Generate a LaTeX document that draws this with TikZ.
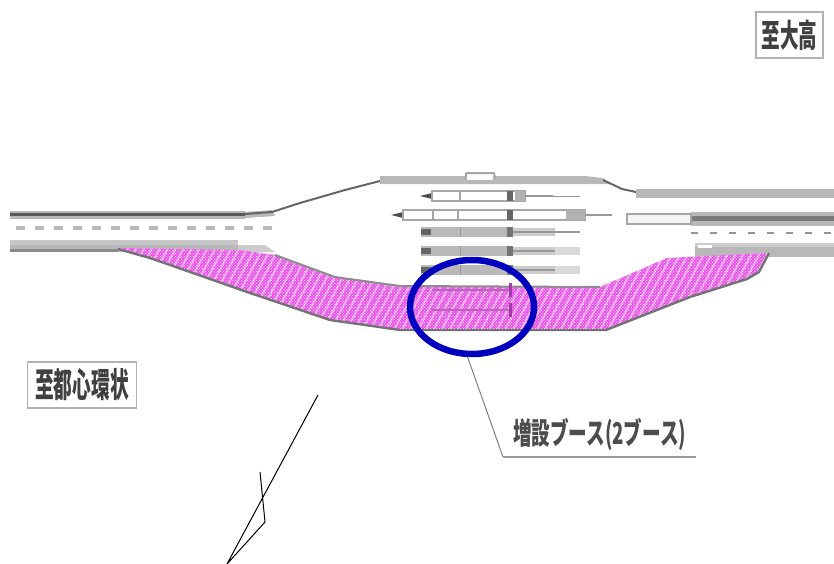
\documentclass[tikz,border=0pt]{standalone}
\usepackage{fontspec}
\newfontfamily\cjk{Noto Sans CJK JP}
\usetikzlibrary{shapes.geometric,patterns,patterns.meta}
\definecolor{roadgrey}{gray}{0.72}
\definecolor{roaddark}{gray}{0.35}
\definecolor{addpink}{RGB}{236,80,236}
\definecolor{circblue}{RGB}{0,0,190}
\begin{document}
\begin{tikzpicture}[x=1pt,y=-1pt,
    lb/.style={draw=gray!60,line width=1.4pt,fill=white,inner sep=0pt,minimum height=46pt,text=black!75},
    edge/.style={draw=black!60,line width=2pt,line join=round},
    band/.style={fill=roadgrey,draw=none},
    booth/.style={draw=gray!70,line width=1.4pt,fill=#1},
    tail/.style={draw=gray!80,line width=#1}]
    \useasboundingbox (0,0) rectangle (834,564);
    % left road
    \fill[band] (10,211) rectangle (245,219);
    \draw[roaddark,line width=3pt] (10,214.5) -- (245,214.5);
    \fill[band] (245,212) -- (272,210) -- (275,216) -- (245,218) -- cycle;
    \fill[band] (10,240) rectangle (238,252);
    \fill[gray!45] (10,240) rectangle (238,245);
    \fill[gray!40] (238,245) -- (265,245) -- (275,252) -- (238,252) -- cycle;
    \fill[roaddark!70] (10,249) rectangle (118,252);
    \draw[gray!55,line width=4pt,dash pattern=on 9pt off 10pt] (16,228) -- (275,228);
    \draw[edge] (245,214) -- (272,212) -- (300,203) -- (345,190) -- (380,181);
    % top of the plaza
    \fill[band] (380,176) -- (585,176) -- (603,178) -- (610,184) -- (380,184) -- cycle;
    \draw[edge,draw=gray!70] (466,178) -- (466,173) -- (494,173) -- (495,178);
    \fill[white] (467,175) rectangle (493,180);
    \draw[edge] (603,180) -- (622,189) -- (636,192);
    % right road
    \fill[band] (636,189) rectangle (834,198);
    \fill[band] (691,212) rectangle (834,226);
    \fill[roaddark!80] (691,216) rectangle (834,221);
    \draw[booth=gray!8] (627,224) -- (691,224) -- (691,214) -- (627,214) -- cycle;
    \draw[roadgrey!80!black,line width=1.8pt,dash pattern=on 7pt off 12pt] (691,233) -- (834,233);
    \fill[band] (695,243) rectangle (834,257);
    \fill[gray!40] (695,243) rectangle (834,247);
    \fill[white] (698,245) rectangle (712,248);
    % added area
    \path[fill=addpink] (118,248) -- (240,250) -- (275,255) -- (335,277) -- (400,286) -- (600,287)
        -- (667,258) -- (768,253) -- (759,272) -- (747,279) -- (690,297) -- (606,330) -- (400,330)
        -- (330,320) -- (250,293) -- (150,258) -- cycle;
    \path[pattern={Lines[angle=62,distance=7pt,line width=2pt]},pattern color=white,opacity=0.45] (118,248) -- (240,250) -- (275,255) -- (335,277) -- (400,286) -- (600,287)
        -- (667,258) -- (768,253) -- (759,272) -- (747,279) -- (690,297) -- (606,330) -- (400,330)
        -- (330,320) -- (250,293) -- (150,258) -- cycle;
    \path[pattern=crosshatch dots,pattern color=white] (118,248) -- (240,250) -- (275,255) -- (335,277) -- (400,286) -- (600,287)
        -- (667,258) -- (768,253) -- (759,272) -- (747,279) -- (690,297) -- (606,330) -- (400,330)
        -- (330,320) -- (250,293) -- (150,258) -- cycle;
    \draw[edge,draw=black!55,line width=2.4pt] (118,249) -- (150,258) -- (250,293) -- (330,320) -- (400,330) -- (606,330)
        -- (690,297) -- (747,279) -- (759,272) -- (769,253);
    \draw[edge,draw=black!45] (275,255) -- (335,277) -- (400,286) -- (600,287);
    % booths
    \foreach \y/\x/\a/\b/\c in {196/420/525/553/580,215/391/585/612/612} {
        \fill[black!70] (\x,\y) -- (\x+12,\y-3) -- (\x+12,\y+3) -- cycle;
        \draw[booth=white] (\x+12,\y-5) rectangle (\a,\y+5);
        \draw[tail=2pt] (\a,\y) -- (\b,\y);
        \draw[tail=1pt] (\b,\y) -- (\c,\y);
        \fill[black!60] (507,\y-5) rectangle (513,\y+5);
    }
    \fill[gray!60] (515,191) rectangle (525,201);
    \fill[gray!60] (566,210) rectangle (585,220);
    \draw[gray!70,line width=1.4pt] (460,191) -- (460,201);
    \draw[gray!70,line width=1.4pt] (433,210) -- (433,220) (458,210) -- (458,220);
    \foreach \y/\c in {232/580,251/580,270/580} {
        \fill[gray!55] (421,\y-5) rectangle (510,\y+5);
        \fill[black!60] (421,\y-3) rectangle (431,\y+3);
        \fill[gray!40] (510,\y-4) rectangle (555,\y+4);
        \draw[tail=1.4pt] (510,\y) -- (\c,\y);
        \fill[black!55] (507,\y-5) rectangle (513,\y+5);
        \draw[gray!80,line width=1pt] (460,\y-5) -- (460,\y+5);
    }
    \fill[gray!30] (555,247) rectangle (580,255);
    \fill[gray!30] (555,266) rectangle (580,274);
    \foreach \y in {290,310} {
        \draw[gray!50!addpink,line width=1.4pt] (432,\y) -- (510,\y);
        \fill[black!30!addpink] (509,\y-7) rectangle (512,\y+7);
    }
    % circle and label
    \node[ellipse,draw=circblue,line width=6.5pt,minimum width=124pt,minimum height=94pt,inner sep=0pt] (newbooth) at (472,307) {};
    \coordinate (bend) at (503,457);
    \coordinate (lineend) at (696,457);
    \draw[gray,line width=1pt] (newbooth.265) -- (bend);
    \draw[gray!80,line width=2pt] (bend) -- (lineend);
    \node[text=black!70,font=\cjk\bfseries\fontsize{30}{30}\selectfont,xscale=0.62,anchor=west,inner sep=0pt] (addlabel) at (513,434) {増設ブース(2ブース)};
    \node[lb,minimum width=67pt,font=\cjk\bfseries\fontsize{32}{32}\selectfont] (daikou) at (789.5,35) {\scalebox{0.58}[1]{至大高}};
    \node[lb,minimum width=109pt,font=\cjk\bfseries\fontsize{34}{34}\selectfont] (toshin) at (82,385) {\scalebox{0.55}[1]{至都心環状}};
    % stray lines
    \coordinate (strayA) at (318,395);
    \coordinate (strayB) at (227,564);
    \coordinate (strayC) at (260,472);
    \coordinate (strayD) at (265,522);
    \draw[line width=1pt] (strayA) -- (strayB) -- (strayD) -- (strayC);
\end{tikzpicture}
\end{document}
